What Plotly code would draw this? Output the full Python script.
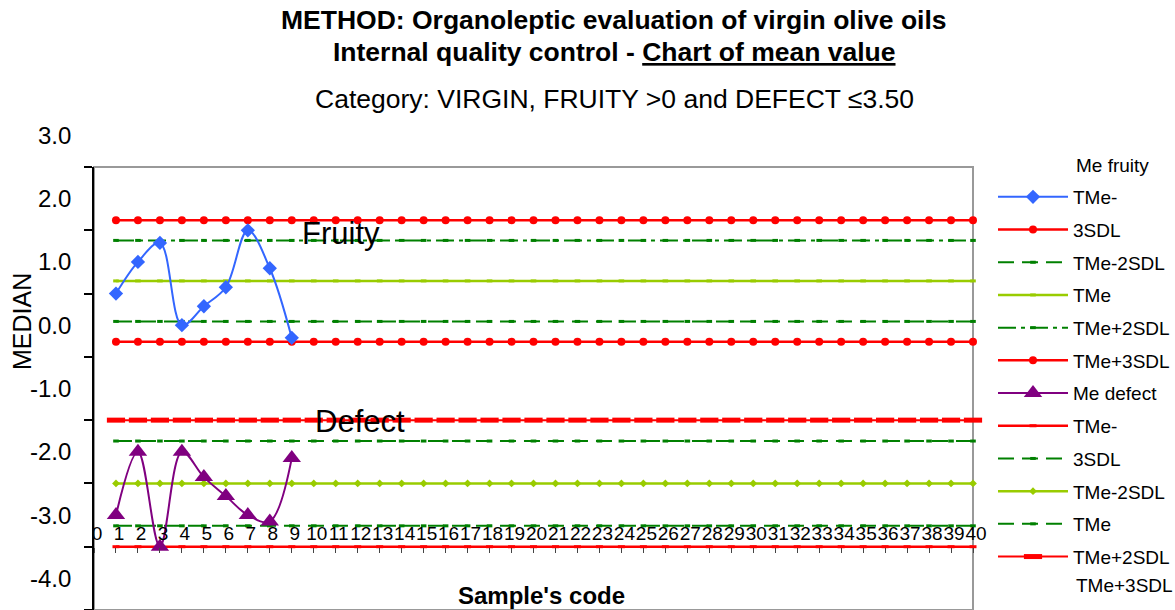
import plotly.graph_objects as go

# ---------------- data ----------------
samples = [1, 2, 3, 4, 5, 6, 7, 8, 9]
me_fruity = [0.5, 1.0, 1.3, 0.0, 0.3, 0.6, 1.5, 0.9, -0.2]
me_defect = [-3.0, -2.0, -3.5, -2.0, -2.4, -2.7, -3.0, -3.1, -2.1]

limit_samples = list(range(1, 41))
limit_names = ["TMe-3SDL", "TMe-2SDL", "TMe", "TMe+2SDL", "TMe+3SDL"]
fruity_limits = [-0.26, 0.06, 0.70, 1.34, 1.66]
defect_limits = [-3.50, -3.17, -2.50, -1.83, -1.50]

# legend texts as they appear in the reference (wrapped legend)
legend_texts = ["TMe-", "3SDL", "TMe-2SDL", "TMe", "TMe+2SDL", "TMe+3SDL",
                "Me defect", "TMe-", "3SDL", "TMe-2SDL", "TMe", "TMe+2SDL"]
legend_extra_top = "Me fruity"
legend_extra_bottom = "TMe+3SDL"

xtick_values = list(range(0, 41))
xtick_labels = [str(v) for v in xtick_values]
ytick_marks = [2.5, 1.5, 0.5, -0.5, -1.5, -2.5, -3.5, -4.5]
ylabel_values = [3, 2, 1, 0, -1, -2, -3, -4]
ylabel_texts = ["3.0", "2.0", "1.0", "0.0", "-1.0", "-2.0", "-3.0", "-4.0"]
y_range = [-4.5, 2.5]
x_range = [0, 40]

# ---------------- layout geometry ----------------
FONT = "Liberation Sans, Arial, sans-serif"
W, H = 1175, 610
ML, MR, MT, MB = 94, 202, 167, 0
PW, PH = W - ML - MR, H - MT - MB


def px_x(p):
    return (p - ML) / PW


def px_y(p):
    return (H - MB - p) / PH


def yval_to_paper(v):
    return (v - y_range[0]) / (y_range[1] - y_range[0])


RED = "#FF0000"
GREEN = "#008000"
LIME = "#99CC00"
BLUE = "#3366FF"
PURPLE = "#800080"

fig = go.Figure()

fruity_styles = [
    dict(line=dict(color=RED, width=2.5), marker=dict(symbol="circle", size=8, color=RED)),
    dict(line=dict(color=GREEN, width=2, dash="16px,8px"),
         marker=dict(symbol="line-ew", size=4, line=dict(color=GREEN, width=3))),
    dict(line=dict(color=LIME, width=2.5),
         marker=dict(symbol="line-ew", size=4, line=dict(color=LIME, width=3))),
    dict(line=dict(color=GREEN, width=2, dash="18px,5px,4px,5px"),
         marker=dict(symbol="line-ew", size=4, line=dict(color=GREEN, width=3))),
    dict(line=dict(color=RED, width=2.5), marker=dict(symbol="circle", size=8, color=RED)),
]
defect_styles = [
    dict(line=dict(color=RED, width=2.5),
         marker=dict(symbol="line-ew", size=5, line=dict(color=RED, width=3))),
    dict(line=dict(color=GREEN, width=2, dash="16px,8px"),
         marker=dict(symbol="line-ew", size=4, line=dict(color=GREEN, width=3))),
    dict(line=dict(color=LIME, width=2.5), marker=dict(symbol="diamond", size=6, color=LIME)),
    dict(line=dict(color=GREEN, width=2, dash="16px,8px"),
         marker=dict(symbol="line-ew", size=4, line=dict(color=GREEN, width=3))),
    dict(line=dict(color=RED, width=2),
         marker=dict(symbol="line-ew", size=13, line=dict(color=RED, width=5))),
]

for i, (val, st) in enumerate(zip(fruity_limits, fruity_styles)):
    fig.add_trace(go.Scatter(
        x=limit_samples, y=[val] * len(limit_samples), mode="lines+markers",
        name=legend_texts[1 + i], legendgroup="f%d" % i, legendrank=2 + i,
        hovertemplate="Fruity " + limit_names[i] + ": %{y}<extra></extra>",
        cliponaxis=False, **st))
for i, (val, st) in enumerate(zip(defect_limits, defect_styles)):
    fig.add_trace(go.Scatter(
        x=limit_samples, y=[val] * len(limit_samples), mode="lines+markers",
        name=legend_texts[7 + i], legendgroup="d%d" % i, legendrank=8 + i,
        hovertemplate="Defect " + limit_names[i] + ": %{y}<extra></extra>",
        cliponaxis=False, **st))

fig.add_trace(go.Scatter(
    x=samples, y=me_fruity, mode="lines+markers", name=legend_texts[0],
    legendgroup="fm", legendrank=1,
    line=dict(color=BLUE, width=2, shape="spline", smoothing=1.0),
    marker=dict(symbol="diamond", size=11, color=BLUE),
    hovertemplate="Me fruity: %{y}<extra></extra>", cliponaxis=False))
fig.add_trace(go.Scatter(
    x=samples, y=me_defect, mode="lines+markers", name=legend_texts[6],
    legendgroup="dm", legendrank=7,
    line=dict(color=PURPLE, width=2, shape="spline", smoothing=1.0),
    marker=dict(symbol="triangle-up", size=16, color=PURPLE),
    hovertemplate="Me defect: %{y}<extra></extra>", cliponaxis=False))

annotations = []
TS = 26.5
annotations.append(dict(text="<b>METHOD: Organoleptic evaluation of virgin olive oils</b>",
                        x=px_x(614), y=px_y(20), xref="paper", yref="paper",
                        xanchor="center", yanchor="middle", showarrow=False,
                        font=dict(family=FONT, size=TS, color="black")))
annotations.append(dict(text="<b>Internal quality control - <u>Chart of mean value</u></b>",
                        x=px_x(614), y=px_y(52), xref="paper", yref="paper",
                        xanchor="center", yanchor="middle", showarrow=False,
                        font=dict(family=FONT, size=TS, color="black")))
annotations.append(dict(text="Category: VIRGIN, FRUITY >0 and DEFECT \u22643.50",
                        x=px_x(614), y=px_y(99), xref="paper", yref="paper",
                        xanchor="center", yanchor="middle", showarrow=False,
                        font=dict(family=FONT, size=TS, color="black")))
annotations.append(dict(text="MEDIAN", textangle=-90, x=px_x(22), y=px_y(322),
                        xref="paper", yref="paper", xanchor="center", yanchor="middle",
                        showarrow=False, font=dict(family=FONT, size=25, color="black")))
annotations.append(dict(text="<b>Sample's code</b>", x=px_x(541), y=px_y(595),
                        xref="paper", yref="paper", xanchor="center", yanchor="middle",
                        showarrow=False, font=dict(family=FONT, size=24, color="black")))
for v, t in zip(ylabel_values, ylabel_texts):
    annotations.append(dict(text=t, x=px_x(73), y=yval_to_paper(v), xref="paper", yref="paper",
                            xanchor="right", yanchor="middle", showarrow=False,
                            font=dict(family=FONT, size=24, color="black")))
annotations.append(dict(text="Fruity", x=11.24, y=1.45, xref="x", yref="y",
                        xanchor="center", yanchor="middle", showarrow=False,
                        font=dict(family=FONT, size=31, color="black")))
annotations.append(dict(text="Defect", x=12.1, y=-1.52, xref="x", yref="y",
                        xanchor="center", yanchor="middle", showarrow=False,
                        font=dict(family=FONT, size=31, color="black")))
annotations.append(dict(text=legend_extra_top, x=px_x(1074), y=px_y(165),
                        xref="paper", yref="paper", xanchor="left", yanchor="middle",
                        showarrow=False, font=dict(family=FONT, size=19, color="black")))
annotations.append(dict(text=legend_extra_bottom, x=px_x(1074), y=px_y(585),
                        xref="paper", yref="paper", xanchor="left", yanchor="middle",
                        showarrow=False, font=dict(family=FONT, size=19, color="black")))

fig.update_layout(
    width=W, height=H,
    margin=dict(l=ML, r=MR, t=MT, b=MB, autoexpand=False),
    plot_bgcolor="white", paper_bgcolor="white",
    font=dict(family=FONT, color="black"),
    showlegend=True,
    legend=dict(x=px_x(993), xanchor="left", y=px_y(178), yanchor="top",
                font=dict(family=FONT, size=19, color="black"),
                itemwidth=70, tracegroupgap=5, traceorder="grouped",
                bgcolor="rgba(0,0,0,0)", borderwidth=0),
    xaxis=dict(range=x_range, tickmode="array", tickvals=xtick_values, ticktext=xtick_labels,
               showgrid=False, zeroline=False, showline=False,
               ticks="outside", ticklen=5, tickcolor="#444", tickwidth=1,
               ticklabelposition="inside", ticklabeloverflow="allow", tickangle=0,
               ticklabelshift=3,
               tickfont=dict(family=FONT, size=19, color="black"),
               anchor="free", position=yval_to_paper(-3.5), fixedrange=True),
    yaxis=dict(range=y_range, tickmode="array", tickvals=ytick_marks,
               showticklabels=False, showgrid=False, zeroline=False,
               showline=True, linecolor="black", linewidth=2,
               ticks="outside", ticklen=8, tickcolor="black", tickwidth=1.5,
               fixedrange=True),
    shapes=[dict(type="rect", xref="paper", yref="paper", x0=0, x1=1, y0=0, y1=1,
                 line=dict(color="#999999", width=2), layer="below")],
    annotations=annotations,
)

fig.write_html("out.html",
               config={"displayModeBar": False},
               post_script="document.body.style.margin='0px';"
                           "document.body.style.overflow='hidden';")
